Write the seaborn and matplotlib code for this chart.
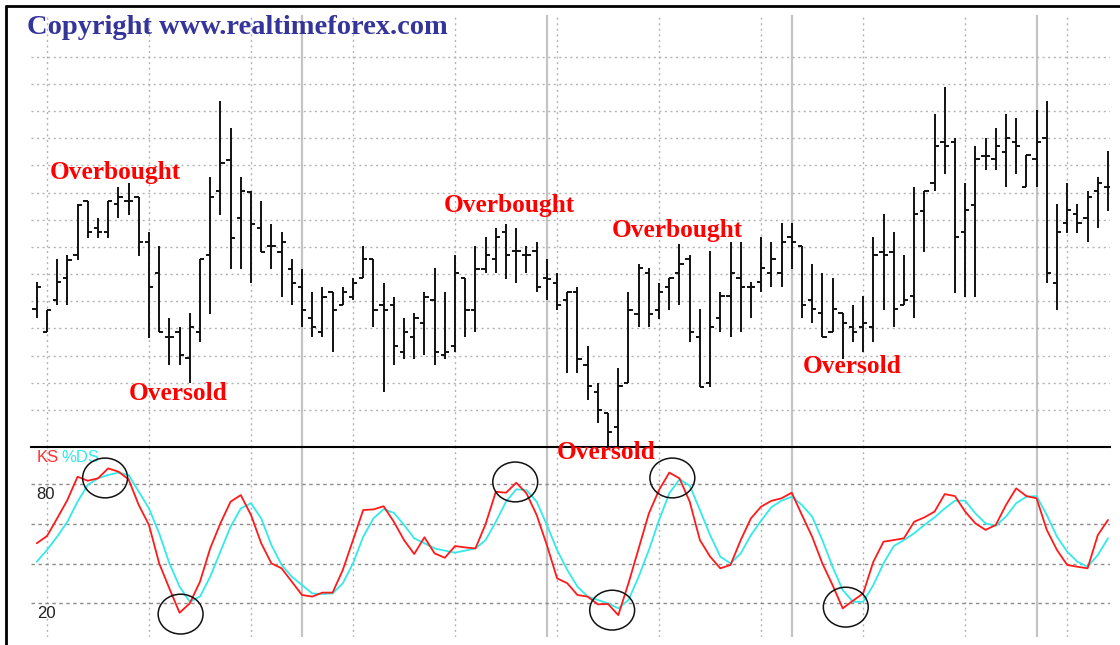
import numpy as np
import pandas as pd
import matplotlib
matplotlib.use("Agg")
import matplotlib.pyplot as plt
import seaborn as sns
from matplotlib.patches import Ellipse
from matplotlib.lines import Line2D

# --- price bars (arbitrary price units, one dotted grid line = 10) ---
bar_open = [47.0, 38.8, 50.4, 58.5, 67.0, 87.0, 76.8, 75.4, 85.7, 87.0,
            88.5, 71.9, 60.5, 36.8, 38.8, 29.0, 38.8, 67.0, 90.6, 102.0,
            80.5, 90.3, 77.1, 70.5, 68.3, 61.8, 55.4, 44.0, 38.8, 53.6,
            48.7, 51.7, 58.5, 65.4, 48.7, 48.7, 31.5, 36.8, 41.9, 50.5,
            30.3, 33.7, 58.5, 46.8, 61.8, 65.4, 75.4, 68.5, 67.0, 68.5,
            58.5, 56.9, 50.5, 53.6, 26.6, 16.8, 8.8, 3.6, 20.1, 45.2,
            60.5, 46.8, 55.4, 60.5, 65.4, 37.0, 20.1, 44.0, 52.0, 58.5,
            55.4, 57.2, 60.5, 60.5, 73.5, 70.3, 50.5, 45.6, 38.8, 45.6,
            40.4, 40.4, 40.4, 68.3, 68.3, 48.7, 52.0, 83.3, 93.4, 108.7,
            108.7, 75.6, 85.4, 103.6, 102.2, 105.0, 108.7, 91.9, 102.2, 110.2,
            56.9, 78.7, 82.1, 80.5, 90.6, 91.9]
bar_high = [57.0, 46.8, 65.4, 67.0, 85.7, 87.0, 80.5, 87.0, 92.2, 93.6,
            88.5, 75.4, 70.5, 44.0, 40.4, 45.6, 65.4, 95.8, 123.8, 113.6,
            95.8, 90.6, 87.0, 78.4, 75.4, 65.4, 61.8, 53.6, 55.4, 53.6,
            55.4, 58.5, 70.5, 65.4, 56.9, 51.7, 44.0, 45.6, 53.6, 62.1,
            53.6, 67.0, 58.5, 70.5, 73.8, 76.8, 78.4, 76.8, 70.5, 71.9,
            65.4, 60.3, 53.6, 55.4, 33.7, 20.1, 8.8, 25.4, 53.6, 63.7,
            62.1, 56.9, 58.5, 71.0, 67.0, 47.1, 68.6, 53.6, 71.9, 71.9,
            57.2, 73.5, 71.9, 78.7, 78.7, 70.3, 63.6, 60.5, 58.5, 45.6,
            48.7, 52.0, 73.5, 82.1, 75.6, 67.0, 92.2, 90.6, 118.9, 128.9,
            110.2, 93.6, 107.1, 110.2, 113.6, 118.9, 117.3, 103.8, 120.3, 123.8,
            85.7, 93.6, 85.7, 90.6, 95.6, 105.3]
bar_low = [43.8, 38.8, 48.5, 48.7, 65.2, 73.4, 73.4, 73.4, 80.5, 81.7,
           66.8, 36.6, 38.8, 26.6, 26.6, 20.1, 35.2, 45.2, 81.7, 61.8,
           61.8, 56.9, 68.3, 61.8, 51.7, 48.7, 40.4, 36.8, 36.8, 31.5,
           48.7, 50.5, 58.5, 40.4, 16.8, 26.6, 28.7, 28.7, 30.3, 26.6,
           28.7, 31.5, 36.8, 38.8, 60.3, 60.3, 58.2, 56.9, 60.3, 53.6,
           50.5, 46.8, 23.5, 23.5, 13.7, 5.1, -4.0, -4.0, 20.1, 40.4,
           40.4, 43.6, 46.8, 48.7, 35.2, 18.6, 18.6, 38.8, 36.8, 38.8,
           43.8, 53.6, 55.4, 55.4, 61.8, 43.8, 41.9, 36.8, 38.8, 28.7,
           35.2, 31.5, 35.2, 46.8, 40.4, 48.7, 43.8, 68.3, 90.6, 96.8,
           53.2, 51.7, 51.7, 98.3, 98.3, 91.9, 96.8, 91.9, 91.9, 56.6,
           46.8, 75.2, 75.2, 71.9, 76.8, 83.3]
bar_close = [55.4, 46.8, 57.0, 65.2, 85.4, 75.4, 75.4, 87.0, 88.5, 87.0,
             71.9, 55.4, 38.8, 36.8, 30.3, 40.4, 65.4, 88.5, 100.7, 73.4,
             90.6, 78.4, 68.3, 70.5, 71.9, 56.9, 46.8, 40.4, 51.7, 46.8,
             53.6, 56.9, 65.4, 46.8, 46.8, 33.7, 38.8, 44.0, 51.7, 31.5,
             31.5, 60.5, 46.8, 61.8, 67.0, 73.8, 67.0, 68.5, 67.0, 55.4,
             58.2, 48.7, 53.6, 28.7, 18.9, 10.0, 1.8, 18.9, 46.8, 62.1,
             45.2, 53.6, 58.5, 63.6, 38.8, 18.6, 40.4, 52.0, 60.5, 55.4,
             55.4, 62.1, 65.4, 71.9, 71.9, 48.7, 47.1, 36.8, 47.1, 41.9,
             38.8, 41.9, 67.0, 67.0, 47.1, 50.5, 82.1, 90.6, 107.1, 107.1,
             73.5, 83.6, 102.2, 103.6, 107.1, 110.2, 107.1, 103.8, 108.7, 60.5,
             75.6, 83.6, 78.7, 88.5, 93.6, 91.9]

# --- slow stochastic %K (red) and %D (cyan) ---
pct_k = [50.2, 53.8, 62.7, 71.9, 83.6, 81.6, 82.8, 87.8, 86.2, 82.3,
         69.4, 59.4, 40.1, 27.5, 15.3, 20.0, 30.9, 47.6, 60.2, 71.1,
         74.4, 64.4, 50.2, 40.1, 37.6, 30.9, 24.2, 23.4, 25.4, 25.4,
         36.8, 51.8, 66.9, 67.2, 68.8, 61.0, 51.8, 44.8, 53.2, 45.1,
         42.9, 48.8, 48.1, 47.6, 59.9, 76.1, 75.6, 80.6, 75.3, 64.4,
         49.3, 32.6, 30.1, 24.2, 23.4, 19.5, 19.7, 14.1, 30.1, 47.6,
         65.2, 77.0, 85.7, 82.8, 71.1, 51.8, 43.5, 37.6, 39.3, 51.8,
         62.7, 68.6, 71.5, 72.8, 75.6, 64.4, 53.5, 40.1, 29.2, 17.5,
         21.3, 25.0, 40.9, 51.0, 51.8, 52.7, 61.0, 63.2, 66.1, 74.9,
         73.9, 66.1, 60.2, 56.9, 59.4, 69.4, 77.8, 73.9, 72.8, 56.9,
         46.8, 39.3, 38.4, 37.6, 54.3, 61.9]
pct_d = [40.9, 46.8, 53.5, 61.0, 71.1, 79.5, 82.8, 84.5, 85.7, 84.5,
         76.1, 67.7, 55.2, 40.1, 28.4, 20.8, 23.4, 33.4, 46.0, 58.5,
         67.7, 70.3, 62.7, 49.3, 39.3, 33.4, 29.2, 25.0, 24.7, 25.0,
         30.1, 40.1, 53.5, 62.7, 67.3, 65.5, 59.4, 52.7, 50.2, 47.6,
         46.5, 45.5, 46.5, 47.6, 51.8, 61.0, 71.1, 77.3, 76.9, 71.1,
         59.4, 46.8, 36.8, 28.4, 23.4, 21.7, 20.0, 17.5, 21.7, 33.4,
         46.8, 61.9, 75.3, 82.3, 79.2, 66.9, 54.3, 43.5, 40.1, 45.1,
         54.3, 61.5, 68.3, 71.6, 73.6, 69.4, 63.6, 51.8, 38.4, 26.7,
         20.8, 20.8, 29.2, 40.1, 48.8, 51.8, 55.2, 59.4, 63.2, 67.7,
         71.6, 71.6, 65.2, 60.2, 58.9, 63.6, 70.3, 73.6, 73.9, 64.4,
         53.5, 46.0, 40.9, 38.4, 44.3, 52.7]

# annotations
note_text = ["Overbought", "Oversold", "Overbought", "Overbought", "Oversold"]
note_bar = [1.3, 9.0, 39.9, 56.4, 75.1]
note_price = [97.2, 15.9, 85.4, 76.2, 25.9]
circle_bar = [6.7, 14.1, 46.9, 56.4, 62.3, 79.3]
circle_level = [83.0, 14.6, 81.0, 16.6, 83.0, 18.1]
month_breaks = [26, 50, 74, 98]

df = pd.DataFrame({"open": bar_open, "high": bar_high, "low": bar_low,
                   "close": bar_close, "k": pct_k, "d": pct_d})
df["bar"] = np.arange(len(df))

sns.set_style("white")
plt.rcParams["font.family"] = ["Liberation Serif", "DejaVu Serif"]

fig = plt.figure(figsize=(11.2, 6.45), dpi=100)
ax_px = fig.add_axes([0.0277, 0.3074, 0.9634, 0.6693])
ax_osc = fig.add_axes([0.0277, 0.0124, 0.9634, 0.2950])

xlim = (-0.56, 105.2)
dot = (0, (1.5, 2.5))
for ax in (ax_px, ax_osc):
    ax.set_xlim(*xlim)
    ax.set_xticks([])
    ax.set_yticks([])
    for s in ax.spines.values():
        s.set_visible(False)
    for xb in range(1, len(df), 10):
        ax.axvline(xb, color="#b4b4b4", lw=1.0, ls=dot, zorder=0)
    for xb in month_breaks:
        ax.axvline(xb, color="#c4c4c4", lw=1.6, zorder=0)

# --- upper panel: OHLC bars ---
ax_px.set_ylim(-3.5, 155.3)
for lvl in range(10, 150, 10):
    ax_px.axhline(lvl, color="#b4b4b4", lw=1.0, ls=dot, zorder=0)
ax_px.vlines(df["bar"], df["low"], df["high"], color="#111111", lw=1.4, zorder=3)
ax_px.hlines(df["open"], df["bar"] - 0.42, df["bar"], color="#111111", lw=1.4, zorder=3)
ax_px.hlines(df["close"], df["bar"], df["bar"] + 0.42, color="#111111", lw=1.4, zorder=3)

for txt, xb, yp in zip(note_text, note_bar, note_price):
    ax_px.text(xb, yp, txt, color="#ff0000", fontsize=18.3, fontweight="bold",
               ha="left", va="center", zorder=5)

# --- lower panel: stochastic ---
ax_osc.set_ylim(3.1, 98.7)
ax_osc.spines["top"].set_visible(True)
ax_osc.spines["top"].set_color("black")
ax_osc.spines["top"].set_linewidth(1.5)
for lvl in (20, 40, 60, 80):
    ax_osc.axhline(lvl, color="#8c8c8c", lw=1.0, ls=(0, (2.5, 2.5)), zorder=0)

sns.lineplot(data=df, x="bar", y="k", color="#ff1a1a", lw=1.3, ax=ax_osc, zorder=3)
sns.lineplot(data=df, x="bar", y="d", color="#33eaea", lw=1.3, ax=ax_osc, zorder=2)
ax_osc.set_xlabel("")
ax_osc.set_ylabel("")

for xb, lv in zip(circle_bar, circle_level):
    ax_osc.add_patch(Ellipse((xb, lv), 4.4, 20, fill=False, ec="#111111", lw=1.1, zorder=4))

ax_osc.text(51.0, 96.0, "Oversold", color="#ff0000", fontsize=18.3, fontweight="bold",
            ha="left", va="center", clip_on=False, zorder=6)

sans = ["Liberation Sans", "DejaVu Sans"]
ax_osc.text(0.0, 93.5, "KS", color="#ff3030", fontsize=12, family=sans, ha="left", va="center")
ax_osc.text(2.4, 93.5, "%DS", color="#33eaea", fontsize=12, family=sans, ha="left", va="center")
ax_osc.text(0.0, 78.5, "80", color="#222222", fontsize=12, family=sans, ha="left", va="top")
ax_osc.text(0.0, 18.5, "20", color="#222222", fontsize=12, family=sans, ha="left", va="top")

fig.text(27 / 1120, 1 - 28 / 645, "Copyright www.realtimeforex.com", color="#34349a",
         fontsize=20.5, fontweight="bold", ha="left", va="center")

# outer frame (left and top edges)
fig.add_artist(Line2D([5.5 / 1120, 5.5 / 1120], [0, 1 - 5.5 / 645], color="black", lw=2))
fig.add_artist(Line2D([5.5 / 1120, 1], [1 - 5.5 / 645, 1 - 5.5 / 645], color="black", lw=2))

fig.savefig("out.png", dpi=100)
